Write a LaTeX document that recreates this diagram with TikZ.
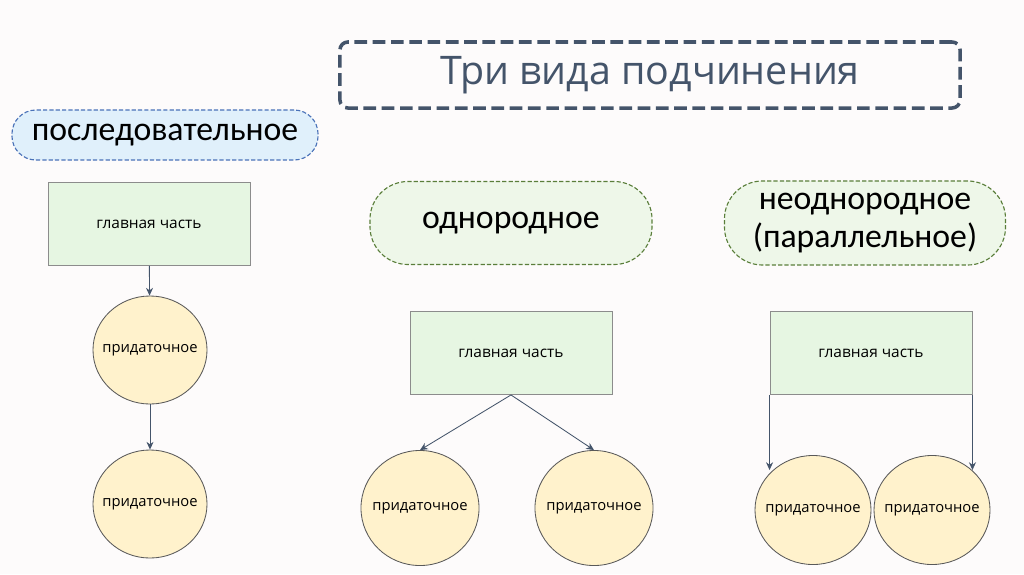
\documentclass[tikz,border=0pt]{standalone}
\usepackage{fontspec}
\setmainfont{Open Sans}
\newfontfamily\labelfont{Carlito}
\usetikzlibrary{shapes.geometric,arrows.meta}
\definecolor{slate}{HTML}{44546A}
\definecolor{bluedash}{HTML}{4A72B8}
\definecolor{bluefill}{HTML}{E0F0FB}
\definecolor{greendash}{HTML}{5A7E3A}
\definecolor{greenfill}{HTML}{EEF7E9}
\definecolor{mainfill}{HTML}{E6F6E2}
\definecolor{mainline}{HTML}{8C8C8C}
\definecolor{subfill}{HTML}{FFF2CC}
\definecolor{subline}{HTML}{595959}
\definecolor{pagebg}{HTML}{FDFBFB}
\tikzset{
  titlebox/.style={draw=slate, line width=2.5pt, dash pattern=on 9pt off 4pt,
    rounded corners=0.2cm, minimum width=15.5cm, minimum height=1.65cm,
    text=slate, font=\fontsize{28}{32}\selectfont},
  kindbox/.style={line width=0.8pt, dash pattern=on 3pt off 1.5pt,
    font=\labelfont\fontsize{24}{27}\selectfont, align=center},
  mainbox/.style={draw=mainline, fill=mainfill, line width=0.6pt,
    minimum width=5.05cm, minimum height=2.075cm, font=\fontsize{11}{13}\selectfont},
  subnode/.style={ellipse, draw=subline, fill=subfill, line width=0.6pt,
    inner xsep=-0.22cm, inner ysep=0pt, font=\fontsize{10.5}{13}\selectfont},
  link/.style={draw=slate, line width=0.6pt, -{Stealth[length=5.5pt,width=5pt]}}
}
\begin{document}
\begin{tikzpicture}[x=0.025cm, y=-0.025cm]
    \fill[pagebg] (0,0) rectangle (1024,574);
    \useasboundingbox (0,0) rectangle (1024,574);
    % title
    \node[titlebox] at(650, 75) (title) {\raisebox{-2pt}{Три вида подчинения}};
    % first column
    \node[kindbox, draw=bluedash, fill=bluefill, rounded corners=0.6cm,
        minimum width=7.65cm, minimum height=1.25cm] at(165, 135) (seq) {последовательное};
    \node[mainbox] at(149, 224) (m1) {главная часть};
    \node[subnode, minimum width=2.85cm, minimum height=2.7cm] at(150, 350) (s1) {придаточное};
    \node[subnode, minimum width=2.85cm, minimum height=2.7cm] at(150, 504) (s2) {придаточное};
    \draw[link] (m1)  -- (s1);
    \draw[link] (s1)  -- (s2);
    % second column
    \node[kindbox, draw=greendash, fill=greenfill, rounded corners=0.95cm,
        minimum width=7.05cm, minimum height=2.075cm] at(511, 223) (hom) {однородное};
    \node[mainbox] at(511, 353) (m2) {главная часть};
    \node[subnode, minimum width=2.95cm, minimum height=2.875cm] at(420, 508) (s3) {придаточное};
    \node[subnode, minimum width=2.95cm, minimum height=2.875cm] at(594, 508) (s4) {придаточное};
    \draw[link] (m2.south)  -- (s3.north);
    \draw[link] (m2.south)  -- (s4.north);
    % third column
    \node[kindbox, draw=greendash, fill=greenfill, rounded corners=0.95cm,
        minimum width=7.025cm, minimum height=2.1cm] at(865, 223) (het) {неоднородное\\(параллельное)};
    \node[mainbox] at(871, 353) (m3) {главная часть};
    \node[subnode, minimum width=2.9cm, minimum height=2.725cm] at(813, 510) (s5) {придаточное};
    \node[subnode, minimum width=2.9cm, minimum height=2.725cm] at(932, 510) (s6) {придаточное};
    \coordinate (e5) at(m3.south west |- 0, 470);
    \coordinate (e6) at(m3.south east |- 0, 470);
    \draw[link] (m3.south west)  -- (e5);
    \draw[link] (m3.south east)  -- (e6);
\end{tikzpicture}
\end{document}
